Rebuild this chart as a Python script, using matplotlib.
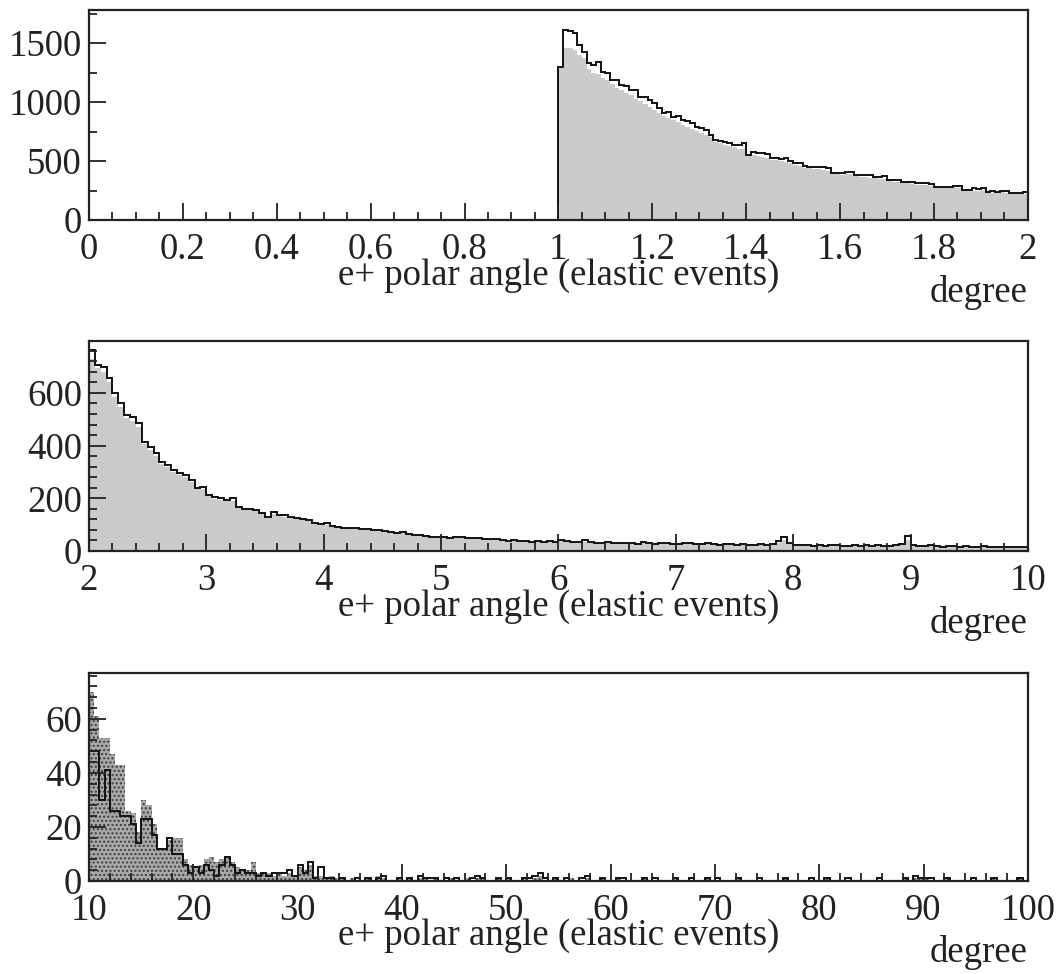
import numpy as np
import matplotlib
matplotlib.use('Agg')
from matplotlib import pyplot as plt
from matplotlib.ticker import MultipleLocator

plt.rcParams['font.family'] = ['Liberation Serif', 'DejaVu Serif']

# Panel 1: 1..2 degree, bins of 0.01
top_lo, top_hi = 1.0, 2.0
top_outline = [
    1300, 1610, 1605, 1585, 1480, 1428, 1330, 1314, 1342, 1258,
    1243, 1190, 1186, 1146, 1140, 1102, 1100, 1046, 1040, 1017,
    992, 950, 906, 912, 876, 884, 848, 842, 820, 791,
    780, 763, 720, 678, 672, 664, 655, 636, 640, 652,
    550, 576, 570, 568, 562, 528, 525, 520, 526, 500,
    483, 486, 455, 452, 450, 452, 448, 440, 398, 400,
    395, 410, 408, 382, 380, 384, 378, 367, 366, 369,
    340, 338, 341, 325, 326, 322, 312, 310, 313, 309,
    282, 284, 280, 283, 290, 288, 254, 256, 268, 266,
    270, 240, 242, 238, 249, 246, 231, 233, 229, 240,
]
top_fill = [
    1300, 1460, 1455, 1440, 1400, 1370, 1280, 1250, 1235, 1200,
    1185, 1150, 1120, 1105, 1075, 1060, 1030, 1010, 985, 960,
    935, 905, 885, 862, 845, 830, 808, 792, 775, 755,
    738, 722, 700, 662, 650, 640, 628, 615, 605, 598,
    540, 548, 542, 536, 528, 510, 505, 498, 490, 480,
    466, 462, 442, 438, 432, 430, 425, 418, 388, 386,
    382, 390, 386, 370, 366, 364, 360, 352, 350, 348,
    330, 326, 324, 314, 312, 308, 300, 298, 296, 292,
    274, 272, 270, 268, 270, 268, 248, 246, 250, 250,
    252, 232, 232, 230, 234, 232, 222, 222, 220, 220,
]

# Panel 2: 2..10 degree, bins of 0.05
mid_lo, mid_hi = 2.0, 10.0
mid_outline = [
    763, 706, 700, 658, 600, 562, 516, 510, 486, 414,
    395, 372, 338, 327, 308, 296, 289, 270, 239, 243,
    213, 205, 201, 194, 201, 167, 159, 160, 156, 144,
    129, 148, 137, 136, 130, 125, 120, 118, 106, 104,
    106, 96, 91, 88, 87, 86, 84, 82, 78, 80,
    76, 72, 70, 72, 65, 61, 60, 56, 55, 53,
    52, 50, 55, 52, 49, 48, 49, 46, 44, 45,
    41, 39, 40, 38, 39, 36, 38, 34, 37, 35,
    42, 38, 33, 36, 40, 34, 32, 31, 34, 30,
    29, 32, 30, 28, 33, 31, 27, 29, 30, 26,
    28, 32, 30, 27, 25, 29, 26, 24, 27, 25,
    23, 26, 24, 22, 27, 24, 26, 38, 55, 30,
    22, 21, 24, 20, 22, 19, 21, 23, 20, 18,
    21, 19, 22, 20, 24, 19, 18, 21, 26, 58,
    22, 20, 18, 21, 19, 17, 20, 18, 16, 19,
    17, 15, 18, 16, 15, 17, 14, 16, 15, 17,
]
mid_fill = [
    728, 695, 680, 640, 585, 548, 505, 492, 470, 405,
    385, 362, 332, 318, 300, 290, 280, 262, 236, 234,
    208, 198, 194, 188, 190, 163, 155, 154, 150, 140,
    127, 140, 132, 130, 125, 120, 116, 112, 103, 101,
    100, 93, 88, 86, 84, 82, 80, 78, 75, 76,
    72, 69, 67, 68, 62, 59, 57, 54, 53, 51,
    49, 48, 51, 49, 47, 45, 46, 44, 42, 42,
    39, 37, 38, 36, 37, 34, 35, 32, 34, 33,
    38, 35, 31, 33, 36, 32, 30, 29, 31, 28,
    27, 29, 28, 26, 30, 28, 25, 27, 27, 24,
    26, 29, 27, 25, 23, 26, 24, 22, 24, 23,
    21, 24, 22, 20, 24, 22, 23, 30, 40, 27,
    20, 19, 22, 18, 20, 17, 19, 21, 18, 16,
    19, 17, 20, 18, 21, 17, 16, 19, 22, 40,
    20, 18, 16, 19, 17, 15, 18, 16, 14, 17,
    15, 13, 16, 14, 13, 15, 12, 14, 13, 15,
]

# Panel 3: 10..100 degree, bins of 0.5
bot_lo, bot_hi = 10.0, 100.0
bot_outline = [
    48, 48, 30, 41, 26, 26, 24, 24, 21, 14,
    23, 23, 17, 12, 12, 16, 10, 10, 6, 3,
    5, 3, 6, 4, 2, 6, 9, 6, 3, 4,
    3, 3, 2, 3, 2, 3, 3, 3, 4, 2,
    6, 3, 7, 1, 5, 1, 1, 0, 1, 0,
    0, 1, 0, 1, 0, 1, 2, 0, 0, 1,
    0, 1, 0, 2, 1, 1, 1, 0, 1, 0,
    1, 0, 0, 1, 2, 1, 0, 0, 1, 0,
    1, 0, 0, 1, 1, 2, 3, 1, 0, 1,
    0, 1, 0, 0, 1, 2, 0, 0, 1, 0,
    0, 1, 1, 0, 0, 0, 1, 0, 1, 0,
    0, 0, 1, 0, 0, 1, 0, 0, 1, 0,
    1, 0, 0, 0, 1, 0, 0, 0, 1, 0,
    0, 0, 0, 1, 0, 0, 0, 0, 1, 0,
    0, 1, 0, 0, 0, 1, 0, 0, 0, 0,
    0, 1, 0, 0, 0, 0, 1, 0, 2, 1,
    1, 1, 0, 0, 1, 0, 0, 0, 0, 1,
    0, 0, 0, 1, 0, 0, 0, 0, 1, 0,
]
bot_fill = [
    70, 61, 53, 53, 47, 43, 43, 26, 25, 18,
    30, 28, 21, 12, 12, 15, 16, 16, 8, 6,
    5, 6, 8, 9, 7, 8, 9, 7, 5, 4,
    4, 7, 3, 3, 3, 2, 3, 2, 3, 2,
    5, 4, 6, 2, 2, 1, 2, 1, 1, 0,
    1, 0, 0, 1, 0, 2, 1, 0, 0, 1,
    0, 1, 0, 1, 1, 0, 1, 0, 0, 1,
    0, 0, 1, 0, 1, 1, 0, 0, 1, 0,
    1, 0, 0, 1, 0, 1, 2, 0, 0, 1,
    0, 0, 1, 0, 0, 1, 0, 0, 1, 0,
    0, 1, 0, 0, 0, 0, 1, 0, 0, 0,
    0, 0, 1, 0, 0, 0, 0, 0, 1, 0,
    0, 0, 0, 0, 1, 0, 0, 0, 0, 0,
    0, 0, 0, 1, 0, 0, 0, 0, 0, 0,
    0, 1, 0, 0, 0, 0, 0, 0, 0, 0,
    0, 0, 0, 0, 0, 0, 1, 0, 1, 1,
    1, 0, 0, 0, 1, 0, 0, 0, 0, 0,
    0, 0, 0, 1, 0, 0, 0, 0, 1, 0,
]

xlabel = 'e+ polar angle (elastic events)'
unit = 'degree'
fs = 26.5

fig = plt.figure(figsize=(10.63, 9.74), dpi=100)

panels = [
    # outline, fill, x range, y top, x major/minor, y major/minor, fill style, axes rect, bin range
    (top_outline, top_fill, (0, 2), 1780, 0.2, 0.05, 500, 250,
     dict(color='#cbcbcb'), [0.0837, 0.7741, 0.8833, 0.2156], (top_lo, top_hi)),
    (mid_outline, mid_fill, (2, 10), 797, 1, 0.2, 200, 40,
     dict(color='#cbcbcb'), [0.0837, 0.4343, 0.8833, 0.2156], (mid_lo, mid_hi)),
    (bot_outline, bot_fill, (10, 100), 77, 10, 2, 20, 4,
     dict(facecolor='#a8a8a8', edgecolor='#3c3c3c', hatch='....', linewidth=0),
     [0.0837, 0.0955, 0.8833, 0.2136], (bot_lo, bot_hi)),
]

for outline, fill, xr, ytop, xmaj, xmin, ymaj, ymin, fstyle, rect, (lo, hi) in panels:
    ax = fig.add_axes(rect)
    edges = np.linspace(lo, hi, len(outline) + 1)
    ax.stairs(fill, edges, fill=True, **fstyle)
    ax.stairs(outline, edges, baseline=0, color='#111111', linewidth=1.4)

    ax.set_xlim(*xr)
    ax.set_ylim(0, ytop)
    ax.xaxis.set_major_locator(MultipleLocator(xmaj))
    ax.xaxis.set_minor_locator(MultipleLocator(xmin))
    ax.yaxis.set_major_locator(MultipleLocator(ymaj))
    ax.yaxis.set_minor_locator(MultipleLocator(ymin))
    ax.xaxis.set_major_formatter(plt.FuncFormatter(lambda v, p: f'{v:g}'))

    ax.tick_params(which='both', direction='in', top=False, right=False,
                   labelsize=fs, width=1.3, colors='#222222')
    ax.tick_params(which='major', length=12)
    ax.tick_params(which='minor', length=6)
    ax.tick_params(axis='x', which='major', pad=9)
    ax.tick_params(axis='y', which='major', pad=5)
    for s in ax.spines.values():
        s.set_linewidth(1.6)
        s.set_color('#222222')

    ax.text(0.5, -0.265, xlabel, transform=ax.transAxes, ha='center', va='center',
            fontsize=fs, color='#222222')
    ax.text(1.0, -0.345, unit, transform=ax.transAxes, ha='right', va='center',
            fontsize=fs, color='#222222')

fig.savefig('out.png', dpi=100)
